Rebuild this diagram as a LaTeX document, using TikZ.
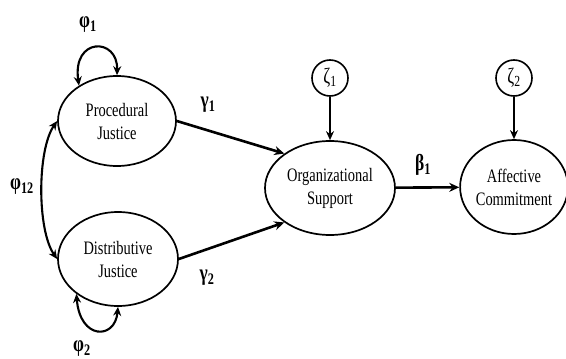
\documentclass[tikz,border=0pt]{standalone}
\usepackage{fontspec}
\setmainfont[FakeStretch=0.76]{Liberation Serif}
\usetikzlibrary{shapes.geometric,arrows.meta}
\tikzset{
  latent/.style={ellipse,draw,line width=1.7pt,align=center,inner sep=0pt,font=\fontsize{19}{23}\selectfont},
  resid/.style={circle,draw,line width=1.6pt,minimum size=36pt,inner sep=0pt,font=\fontsize{22}{24}\selectfont},
  coef/.style={font=\bfseries\fontsize{23}{25}\selectfont},
  gpath/.style={-{Stealth[length=10pt,width=9pt]},line width=2.6pt},
  zpath/.style={-{Stealth[length=9pt,width=8pt]},line width=1.6pt},
  cov/.style={{Stealth[length=9pt,width=8pt]}-{Stealth[length=9pt,width=8pt]},line width=2.1pt}
}
\begin{document}
\begin{tikzpicture}[x=1pt,y=-1pt]
\useasboundingbox (0,0) rectangle (566,359);
% latent variables
\node[latent,minimum width=118pt,minimum height=90pt] (pj) at (117,121) {Procedural\\Justice};
\node[latent,minimum width=120pt,minimum height=94pt] (dj) at (118,259) {Distributive\\Justice};
\node[latent,minimum width=130pt,minimum height=94pt] (os) at (330,188) {Organizational\\Support};
\node[latent,minimum width=102pt,minimum height=94pt] (ac) at (514,187) {Affective\\Commitment};
% disturbances
\node[resid] (z1) at (330,78) {ζ\textsubscript{1}};
\node[resid] (z2) at (514,78) {ζ\textsubscript{2}};
% paths
\draw[gpath] (pj.east) -- (os.143);
\draw[gpath] (dj.east) -- (os.217);
\draw[gpath] (os) -- (ac);
\draw[zpath] (z1) -- (os);
\draw[zpath] (z2) -- (ac);
% variances and covariance
\draw[cov] (pj.137) .. controls (72,37) and (118,37) .. (pj.90);
\draw[cov] (dj.220) .. controls (80,340) and (115,340) .. (dj.270);
\draw[cov] (pj.west) .. controls (37,150) and (37,230) .. (dj.west);
% labels
\node[coef] (g1) at (208,105) {γ\textsubscript{1}};
\node[coef] (g2) at (207,278) {γ\textsubscript{2}};
\node[coef] (b1) at (423,165) {β\textsubscript{1}};
\node[coef] (p1) at (88,25) {φ\textsubscript{1}};
\node[coef] (p2) at (82,349) {φ\textsubscript{2}};
\node[coef] (p12) at (22,187) {φ\textsubscript{12}};
\end{tikzpicture}
\end{document}
